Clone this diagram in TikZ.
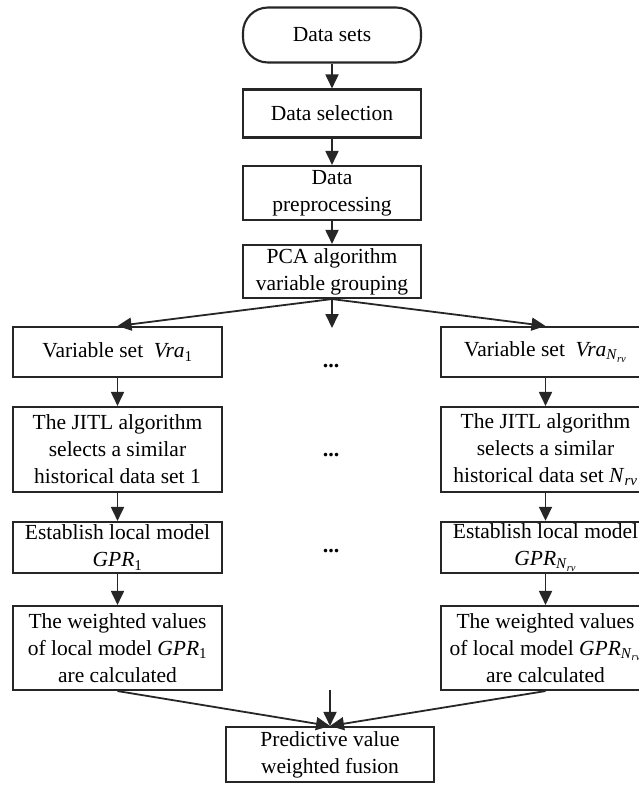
\documentclass[tikz,border=0pt]{standalone}
\usepackage{fontspec}
\setmainfont{Liberation Serif}
\usetikzlibrary{arrows.meta}
\newcommand\vra{\textit{Vra}}
\newcommand\gpr{\textit{GPR}}
\newcommand\nrv{\textit{N}\textsubscript{\textit{rv}}}
\begin{document}
\begin{tikzpicture}[x=1pt,y=-1pt,
  box/.style={draw=black!85,line width=2.1pt,align=center,inner sep=2pt,
    font=\fontsize{21.5}{27}\selectfont},
  mainbox/.style={box,minimum width=178pt},
  sidebox/.style={box,minimum width=209pt},
  arr/.style={draw=black!85,line width=1.8pt,-{Triangle[length=14pt,width=13pt]}},
  dots/.style={font=\fontsize{22}{27}\selectfont\bfseries}]
\useasboundingbox (0,0) rectangle (639,785);
\node[mainbox,rounded corners=25pt,minimum height=55pt] (ds) at (332,35) {Data sets};
\node[mainbox,minimum height=48pt] (sel) at (332,113.5) {Data selection};
\node[mainbox,minimum height=54pt] (pre) at (332,193) {Data\\preprocessing};
\node[mainbox,minimum height=53pt] (pca) at (332,271.5) {PCA algorithm\\variable grouping};
% left column
\node[sidebox,minimum height=50pt] (vs1) at (117.5,352) {Variable set\ \ \vra\textsubscript{1}};
\node[sidebox,minimum height=85pt] (j1) at (117.5,449.5) {The JITL algorithm\\selects a similar\\historical data set 1};
\node[sidebox,minimum height=51pt] (e1) at (117.5,547.5) {Establish local model\\\gpr\textsubscript{1}};
\node[sidebox,minimum height=84pt] (w1) at (117.5,648) {The weighted values\\of local model \gpr\textsubscript{1}\\are calculated};
% right column
\node[sidebox,minimum height=50pt] (vsn) at (545.5,352) {Variable set\ \ \vra\textsubscript{\nrv}};
\node[sidebox,minimum height=85pt] (jn) at (545.5,449.5) {The JITL algorithm\\selects a similar\\historical data set \nrv};
\node[sidebox,minimum height=51pt] (en) at (545.5,547.5) {Establish local model\\\gpr\textsubscript{\nrv}};
\node[sidebox,minimum height=84pt] (wn) at (545.5,648) {The weighted values\\of local model \gpr\textsubscript{\nrv}\\are calculated};
% bottom
\node[box,minimum width=208pt,minimum height=55pt] (pred) at (330,754.5) {Predictive value\\weighted fusion};
% dots
\node[dots] (d1) at (331,366) {...};
\node[dots] (d2) at (331,455) {...};
\node[dots] (d3) at (331,551) {...};
\coordinate (midtop) at (332,328);
\coordinate (midbot) at (330,690);
% arrows
\draw[arr] (ds) -- (sel);
\draw[arr] (sel) -- (pre);
\draw[arr] (pre) -- (pca);
\draw[arr] (pca.south) -- (vs1.north);
\draw[arr] (pca.south) -- (vsn.north);
\draw[arr] (pca.south) -- (midtop);
\draw[arr] (vs1) -- (j1);
\draw[arr] (j1) -- (e1);
\draw[arr] (e1) -- (w1);
\draw[arr] (vsn) -- (jn);
\draw[arr] (jn) -- (en);
\draw[arr] (en) -- (wn);
\draw[arr] (w1.south) -- (pred.north);
\draw[arr] (wn.south) -- (pred.north);
\draw[arr] (midbot) -- (pred.north);
\end{tikzpicture}
\end{document}
